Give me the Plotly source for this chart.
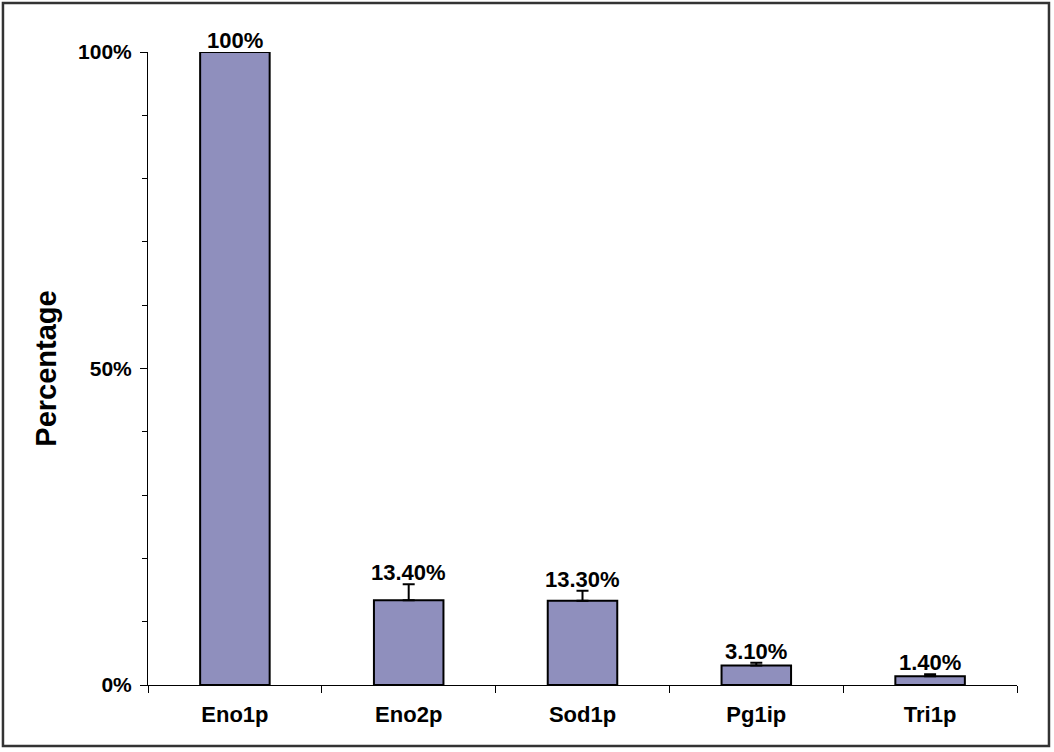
"""
Relative abundance bar chart
"""
import plotly.graph_objects as go

proteins = ["Eno1p", "Eno2p", "Sod1p", "Pg1ip", "Tri1p"]
percent = [100, 13.4, 13.3, 3.1, 1.4]
error_plus = [0, 2.5, 1.6, 0.4, 0.3]
labels = ["100%", "13.40%", "13.30%", "3.10%", "1.40%"]

FONT = "Arial, 'Liberation Sans', sans-serif"

fig = go.Figure()
fig.add_trace(
    go.Bar(
        x=proteins,
        y=percent,
        marker_color="#8f8fbd",
        marker_line_color="black",
        marker_line_width=2,
        error_y=dict(type="data", array=error_plus, symmetric=False,
                     arrayminus=[0] * len(percent),
                     color="black", thickness=2, width=6),
        showlegend=False,
    )
)

# value labels sit above the error bars
for name, val, err, txt in zip(proteins, percent, error_plus, labels):
    fig.add_annotation(
        x=name, y=val + err, text=f"<b>{txt}</b>", showarrow=False,
        yanchor="bottom", yshift=-3,
        font=dict(family=FONT, size=22, color="black"),
    )

# frame around the whole picture
fig.add_shape(type="rect", xref="paper", yref="paper",
              x0=-0.1669, x1=1.0368, y0=-0.0964, y1=1.0774,
              line=dict(color="#333333", width=2.5), layer="above")

fig.update_layout(
    width=1054, height=752,
    margin=dict(l=148, r=37, t=52, b=67),
    plot_bgcolor="white", paper_bgcolor="white",
    bargap=0.6,
    font=dict(family=FONT, color="black"),
    xaxis=dict(
        showline=True, linecolor="black", linewidth=1,
        ticks="outside", tickson="boundaries", ticklen=7,
        tickcolor="black", tickfont=dict(size=22), ticklabelstandoff=10,
        tickprefix="<b>", ticksuffix="</b>",
        showgrid=False,
    ),
    yaxis=dict(
        range=[0, 100], dtick=50, showline=True, linecolor="black",
        linewidth=1, ticks="outside", ticklen=7, tickcolor="black",
        tickprefix="<b>", ticksuffix="%</b>", tickfont=dict(size=21),
        ticklabelstandoff=4,
        minor=dict(dtick=10, ticks="outside", ticklen=5, tickcolor="black"),
        showgrid=False, zeroline=False,
        title=dict(text="<b>Percentage</b>", font=dict(size=29), standoff=12),
    ),
)

fig.write_html("out.html", config={"displayModeBar": False},
               post_script="document.body.style.margin='0';")
